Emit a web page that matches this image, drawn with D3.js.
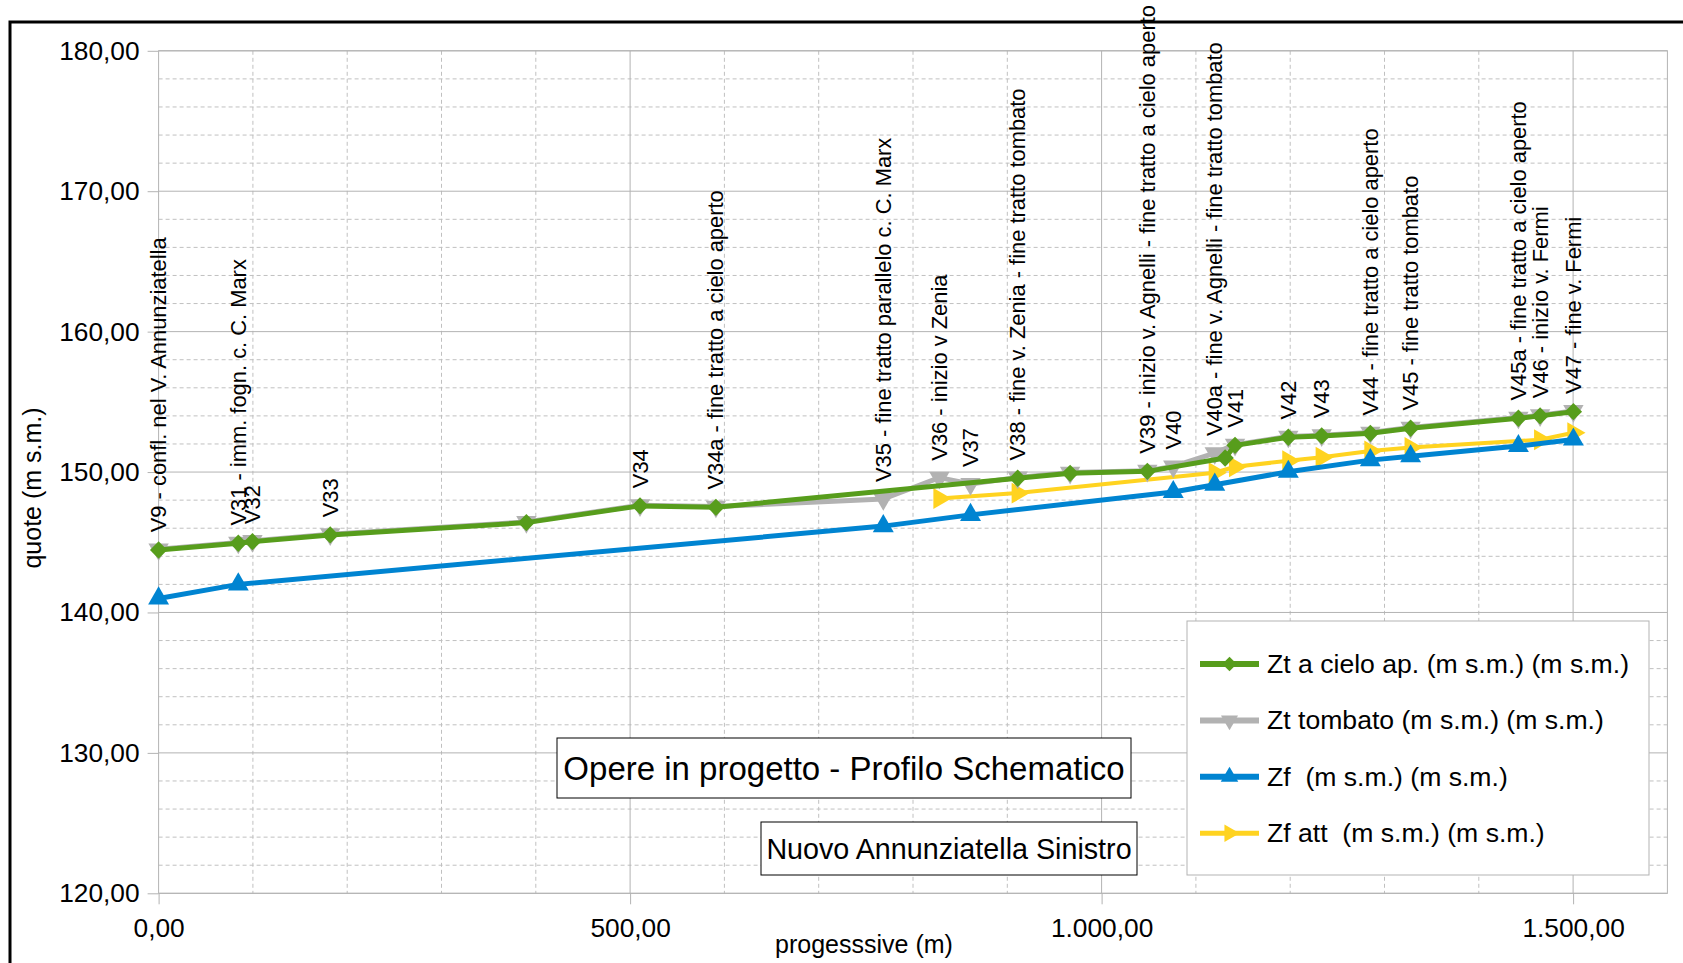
<!DOCTYPE html>
<html>
<head>
<meta charset="utf-8">
<script src="https://cdn.jsdelivr.net/npm/d3@7"></script>
<style>
body{margin:0;background:#fff;}
svg{font-family:"Liberation Sans",Arial,sans-serif;display:block;}
</style>
</head>
<body>
<svg width="1683" height="963"></svg>
<script>
/* data */
const progressive=[0,84.5,99.5,182,390,510.5,591,768.5,828,861,911,966.6,1048.5,1076,1120,1131,1141.5,1198,1233.4,1285,1327.7,1442,1465,1500.3];
const pointLabels=["V9 - confl. nel V. Annunziatella","V31 - imm. fogn. c. C. Marx","V32","V33","","V34",
  "V34a - fine tratto a cielo aperto","V35 - fine tratto parallelo c. C. Marx","V36 - inizio v Zenia","V37",
  "V38 - fine v. Zenia - fine tratto tombato","","V39 - inizio v. Agnelli - fine tratto a cielo aperto","V40",
  "V40a - fine v. Agnelli - fine tratto tombato","","V41","V42","V43","V44 - fine tratto a cielo aperto",
  "V45 - fine tratto tombato","V45a - fine tratto a cielo aperto","V46 - inizio v. Fermi","V47 - fine v. Fermi"];
const ztCieloAp=[144.45,144.93,145.04,145.52,146.40,147.59,147.49,null,null,null,149.56,149.91,150.05,null,null,151.00,151.90,152.48,152.57,152.76,153.12,153.83,154.00,154.30];
const ztTombato=[144.50,144.98,145.09,145.57,146.45,147.64,147.54,148.08,149.60,149.15,149.62,149.96,150.10,150.40,151.35,null,151.95,152.53,152.62,152.81,153.17,153.88,154.05,154.35];
const zf=[141.00,142.00,null,null,null,null,null,146.15,null,146.95,null,null,null,148.58,149.10,null,null,150.02,null,150.85,151.12,151.85,null,152.32];
const zfAtt=[null,null,null,null,null,null,null,null,148.12,null,148.50,null,null,null,149.95,null,150.38,150.80,151.05,151.50,151.75,null,152.30,152.80];
const seriesNames=["Zt a cielo ap. (m s.m.) (m s.m.)","Zt tombato (m s.m.) (m s.m.)","Zf  (m s.m.) (m s.m.)","Zf att  (m s.m.) (m s.m.)"];
const yTicks=[120,130,140,150,160,170,180];
const xTicks=[0,500,1000,1500];

const svg=d3.select('svg');
const itFormat=d3.formatLocale({decimal:",",thousands:".",grouping:[3],currency:["€",""]}).format(",.2f");

const xScale=d3.scaleLinear().domain([0,1600]).range([158.6,1667.4]);
const yScale=d3.scaleLinear().domain([120,180]).range([893.3,50.8]);

/* outer frame */
svg.append('rect')
  .attr('x',10).attr('y',22).attr('width',1800).attr('height',1100)
  .attr('fill','none').attr('stroke','#000').attr('stroke-width',3);

/* grid */
const grid=svg.append('g');
grid.selectAll('.vminor').data(d3.range(100,1600,100).filter(d=>d%500))
  .enter().append('line')
  .attr('x1',d=>xScale(d)).attr('x2',d=>xScale(d))
  .attr('y1',yScale(180)).attr('y2',yScale(120))
  .attr('stroke','#c0c0c0').attr('stroke-dasharray','4,3');
grid.selectAll('.hminor').data(d3.range(122,180,2).filter(d=>d%10))
  .enter().append('line')
  .attr('x1',xScale(0)).attr('x2',xScale(1600))
  .attr('y1',d=>yScale(d)).attr('y2',d=>yScale(d))
  .attr('stroke','#c0c0c0').attr('stroke-dasharray','4,3');
grid.selectAll('.vmajor').data([500,1000,1500])
  .enter().append('line')
  .attr('x1',d=>xScale(d)).attr('x2',d=>xScale(d))
  .attr('y1',yScale(180)).attr('y2',yScale(120))
  .attr('stroke','#b3b3b3');
grid.selectAll('.hmajor').data(yTicks)
  .enter().append('line')
  .attr('x1',xScale(0)).attr('x2',xScale(1600))
  .attr('y1',d=>yScale(d)).attr('y2',d=>yScale(d))
  .attr('stroke','#b3b3b3');
grid.append('rect')
  .attr('x',xScale(0)).attr('y',yScale(180))
  .attr('width',xScale(1600)-xScale(0)).attr('height',yScale(120)-yScale(180))
  .attr('fill','none').attr('stroke','#b3b3b3');

/* axes */
const yAxis=d3.axisLeft(yScale).tickValues(yTicks).tickFormat(itFormat).tickSize(11).tickPadding(8);
const xAxis=d3.axisBottom(xScale).tickValues(xTicks).tickFormat(itFormat).tickSize(11).tickPadding(14);
const gy=svg.append('g').attr('transform',`translate(${xScale(0)},0)`).call(yAxis);
const gx=svg.append('g').attr('transform',`translate(0,${yScale(120)})`).call(xAxis);
[gy,gx].forEach(g=>{
  g.select('.domain').remove();
  g.selectAll('line').attr('stroke','#b3b3b3');
  g.selectAll('text').attr('font-size',26.3).attr('fill','#000').attr('font-family','"Liberation Sans",Arial,sans-serif');
});

svg.append('text')
  .attr('transform','translate(41,488)rotate(-90)')
  .attr('text-anchor','middle')
  .attr('font-size',25)
  .text('quote (m s.m.)');
svg.append('text')
  .attr('x',864).attr('y',953)
  .attr('text-anchor','middle')
  .attr('font-size',25)
  .text('progesssive (m)');

/* series */
const series=[
  {name:seriesNames[3],values:zfAtt,color:'#ffd320',width:4,shape:d3.symbolTriangle,rot:90,size:190},
  {name:seriesNames[2],values:zf,color:'#0084d1',width:5,shape:d3.symbolTriangle,rot:0,size:190},
  {name:seriesNames[1],values:ztTombato,color:'#b2b2b2',width:5,shape:d3.symbolTriangle,rot:180,size:180},
  {name:seriesNames[0],values:ztCieloAp,color:'#579d1c',width:5,shape:d3.symbolSquare,rot:45,size:150}
];
const line=d3.line().x(d=>xScale(d[0])).y(d=>yScale(d[1]));

series.forEach(s=>{
  const pts=progressive.map((p,i)=>[p,s.values[i]]).filter(d=>d[1]!=null);
  const g=svg.append('g');
  g.append('path').datum(pts)
    .attr('d',line).attr('fill','none')
    .attr('stroke',s.color).attr('stroke-width',s.width).attr('stroke-linejoin','round');
  g.selectAll('path.m').data(pts).enter().append('path')
    .attr('class','m')
    .attr('d',d3.symbol(s.shape,s.size))
    .attr('transform',d=>`translate(${xScale(d[0])},${yScale(d[1])})rotate(${s.rot})`)
    .attr('fill',s.color);
});

/* point labels on Zt tombato */
svg.append('g').selectAll('text')
  .data(progressive.map((p,i)=>({p,v:ztTombato[i],t:pointLabels[i]})).filter(d=>d.v!=null&&d.t))
  .enter().append('text')
  .attr('transform',d=>`translate(${xScale(d.p)},${yScale(d.v)-17})rotate(-90)`)
  .attr('dominant-baseline','central')
  .attr('font-size',21.9)
  .text(d=>d.t);

/* title boxes */
const box=(x,y,w,h,txt,fs)=>{
  svg.append('rect').attr('x',x).attr('y',y).attr('width',w).attr('height',h)
    .attr('fill','#fff').attr('stroke','#000').attr('stroke-width',1);
  svg.append('text').attr('x',x+w/2).attr('y',y+h/2)
    .attr('text-anchor','middle').attr('dominant-baseline','central')
    .attr('font-size',fs).text(txt);
};
box(557,738,574,60,'Opere in progetto - Profilo Schematico',33);
box(761,822,376,53,'Nuovo Annunziatella Sinistro',28.7);

/* legend */
const legend=svg.append('g');
legend.append('rect').attr('x',1187).attr('y',621).attr('width',462).attr('height',254)
  .attr('fill','#fff').attr('stroke','#b3b3b3');
const legendOrder=[series[3],series[2],series[1],series[0]];
legendOrder.forEach((s,i)=>{
  const y=664+i*56.4;
  legend.append('line').attr('x1',1200).attr('x2',1259).attr('y1',y).attr('y2',y)
    .attr('stroke',s.color).attr('stroke-width',s.width+1);
  legend.append('path').attr('d',d3.symbol(s.shape,s.size*0.7))
    .attr('transform',`translate(1229.5,${y})rotate(${s.rot})`).attr('fill',s.color);
  legend.append('text').attr('x',1267).attr('y',y)
    .attr('dominant-baseline','central').attr('font-size',26.6)
    .style('white-space','pre').text(s.name);
});
</script>
</body>
</html>
